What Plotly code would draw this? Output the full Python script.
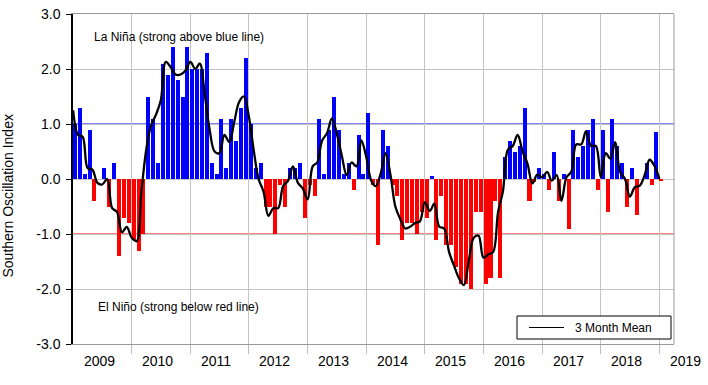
import pandas as pd
import plotly.graph_objects as go

# ---------------- data ----------------
start_month = "2009-01-01"

soi_values = [
    1.0, 1.3, 0.1, 0.9, -0.4, 0.0, 0.2, -0.5, 0.3, -1.4, -0.7, -0.8,        # 2009
    -1.1, -1.3, -1.0, 1.5, 1.1, 0.3, 2.1, 1.9, 2.4, 1.8, 1.5, 2.4,          # 2010
    2.0, 2.0, 2.0, 2.3, 0.3, 0.1, 1.1, 0.2, 1.1, 0.7, 1.3, 2.2,             # 2011
    1.0, 0.2, 0.3, -0.5, -0.5, -1.0, -0.1, -0.5, 0.2, 0.2, 0.3, -0.7,       # 2012
    -0.1, -0.3, 1.1, 0.1, 0.9, 1.5, 0.9, 0.1, 0.3, -0.2, 0.8, 0.1,          # 2013
    1.2, -0.1, -1.2, 0.9, 0.6, -0.1, -0.3, -1.1, -0.8, -0.8, -1.0, -0.6,    # 2014
    -0.7, 0.05, -1.1, -0.3, -1.2, -1.2, -1.6, -1.9, -1.9, -2.0, -0.6, -0.6, # 2015
    -1.9, -1.8, -0.4, -1.8, 0.4, 0.7, 0.5, 0.6, 1.3, -0.4, -0.05, 0.2,      # 2016
    0.1, -0.2, 0.5, -0.4, 0.1, -0.9, 0.9, 0.4, 0.6, 0.9, 1.1, -0.2,         # 2017
    0.9, -0.6, 1.1, 0.6, 0.3, -0.5, 0.2, -0.65, 0.0, 0.3, -0.1, 0.85,       # 2018
    -0.03,                                                                   # 2019
]

mean3_values = [
    1.25, 0.80, 0.77, 0.20, 0.17, -0.07, -0.10, 0.00, -0.53, -0.60, -0.97, -0.87,
    -1.07, -1.13, -0.27, 0.53, 0.97, 1.17, 1.43, 2.13, 2.03, 1.90, 1.90, 1.97,
    2.13, 2.00, 2.10, 1.53, 0.90, 0.50, 0.47, 0.80, 0.67, 1.03, 1.40, 1.50,
    1.13, 0.50, 0.00, -0.23, -0.67, -0.53, -0.53, -0.13, -0.03, 0.23, -0.07, -0.17,
    -0.37, 0.23, 0.30, 0.70, 0.83, 1.10, 0.83, 0.43, 0.07, 0.30, 0.23, 0.70,
    0.40, -0.03, -0.13, 0.10, 0.47, 0.07, -0.50, -0.73, -0.90, -0.87, -0.80, -0.77,
    -0.42, -0.58, -0.45, -0.87, -0.90, -1.33, -1.57, -1.80, -1.93, -1.50, -1.07, -1.03,
    -1.43, -1.37, -1.33, -0.60, -0.23, 0.53, 0.60, 0.80, 0.50, 0.28, -0.08, 0.08,
    0.03, 0.13, -0.03, 0.07, -0.40, 0.03, 0.13, 0.63, 0.63, 0.87, 0.60, 0.60,
    0.03, 0.47, 0.37, 0.67, 0.13, 0.00, -0.32, -0.15, -0.12, 0.07, 0.35, 0.24,
    0.00,
]

year_labels = ["2009", "2010", "2011", "2012", "2013", "2014",
               "2015", "2016", "2017", "2018", "2019"]
y_tick_values = [-3, -2, -1, 0, 1, 2, 3]
y_tick_labels = ["-3.0", "-2.0", "-1.0", "0.0", "1.0", "2.0", "3.0"]

la_nina_threshold = 1.0
el_nino_threshold = -1.0

# ---------------- figure ----------------
FONT = "Liberation Sans, Arial, sans-serif"
DAY_MS = 86400000

months = pd.date_range(start_month, periods=len(soi_values), freq="MS")
bar_colors = ["#0000FF" if v >= 0 else "#FF0000" for v in soi_values]

x_start = pd.Timestamp("2008-12-31")
x_end = pd.Timestamp("2019-04-02")
span = (x_end - x_start).total_seconds()


def xfrac(ts):
    return (pd.Timestamp(ts) - x_start).total_seconds() / span


fig = go.Figure()
fig.add_trace(go.Bar(
    x=months, y=soi_values, marker_color=bar_colors, marker_line_width=0,
    width=25 * DAY_MS, offset=0.3 * DAY_MS, showlegend=False, hoverinfo="x+y",
))
fig.add_trace(go.Scatter(
    x=months, y=mean3_values, mode="lines", name="3 Month Mean",
    line=dict(color="black", width=2.3, shape="spline", smoothing=1),
    showlegend=False,
))

grid_years = [f"{y}-01-01" for y in range(2010, 2020)]

fig.update_layout(
    width=708, height=385,
    margin=dict(l=73, r=34, t=14, b=41, autoexpand=False),
    plot_bgcolor="white", paper_bgcolor="white",
    font=dict(family=FONT, size=14, color="black"),
    showlegend=False,
    bargap=0,
    xaxis=dict(
        type="date", range=[x_start, x_end],
        tickvals=grid_years, ticktext=[""] * len(grid_years),
        ticks="outside", ticklen=9, tickcolor="#BDBDBD",
        showgrid=True, gridcolor="#C4C4C4", gridwidth=1,
        showline=True, linecolor="#9A9A9A", linewidth=1, mirror=True,
        zeroline=False,
    ),
    yaxis=dict(
        range=[-3, 3], tickvals=y_tick_values, ticktext=y_tick_labels,
        ticks="outside", ticklen=5, tickcolor="black",
        tickfont=dict(size=14, family=FONT, color="black"),
        ticklabelstandoff=3,
        showgrid=True, gridcolor="#C4C4C4", gridwidth=1,
        showline=True, linecolor="black", linewidth=1.5,
        zeroline=False,
    ),
)

shapes = [
    dict(type="line", xref="paper", yref="paper", x0=1, x1=1, y0=0, y1=1,
         line=dict(color="#9A9A9A", width=1)),
    dict(type="line", xref="paper", yref="y", x0=0, x1=1,
         y0=la_nina_threshold, y1=la_nina_threshold,
         line=dict(color="#0000FF", width=1), layer="between"),
    dict(type="line", xref="paper", yref="y", x0=0, x1=1,
         y0=el_nino_threshold, y1=el_nino_threshold,
         line=dict(color="#FF0000", width=1), layer="between"),
]


def px_x(p):
    return (p - 73) / 601.0


def px_y(p):
    return (344 - p) / 330.0


# legend box
shapes.append(dict(type="rect", xref="paper", yref="paper",
                   x0=px_x(517), x1=px_x(671), y0=px_y(339), y1=px_y(316),
                   line=dict(color="black", width=1), fillcolor="white",
                   layer="above"))
shapes.append(dict(type="line", xref="paper", yref="paper",
                   x0=px_x(529), x1=px_x(564), y0=px_y(327.5), y1=px_y(327.5),
                   line=dict(color="black", width=1), layer="above"))
fig.update_layout(shapes=shapes)

annotations = [
    dict(text="3 Month Mean", xref="paper", yref="paper",
         x=px_x(573), y=px_y(327.5), xanchor="left", yanchor="middle",
         showarrow=False, font=dict(size=12, family=FONT)),
    dict(text="La Niña (strong above blue line)", xref="paper", yref="paper",
         x=px_x(92), y=px_y(36.5), xanchor="left", yanchor="middle",
         showarrow=False, font=dict(size=12, family=FONT)),
    dict(text="El Niño (strong below red line)", xref="paper", yref="paper",
         x=px_x(96), y=px_y(306.5), xanchor="left", yanchor="middle",
         showarrow=False, font=dict(size=12, family=FONT)),
    dict(text="Southern Oscillation Index", xref="paper", yref="paper",
         x=px_x(8), y=px_y(196.5), xanchor="center", yanchor="middle",
         textangle=-90, showarrow=False, font=dict(size=14, family=FONT)),
]
for k, lab in enumerate(year_labels):
    pos = pd.Timestamp(f"{lab}-01-01") + pd.Timedelta(days=161)
    annotations.append(dict(
        text=lab, xref="paper", yref="paper", x=xfrac(pos), y=px_y(361),
        xanchor="center", yanchor="middle", showarrow=False,
        font=dict(size=14, family=FONT)))
fig.update_layout(annotations=annotations)

fig.write_html(
    "out.html",
    config={"displayModeBar": False},
    post_script="document.body.style.margin='0';document.body.style.overflow='hidden';",
)
